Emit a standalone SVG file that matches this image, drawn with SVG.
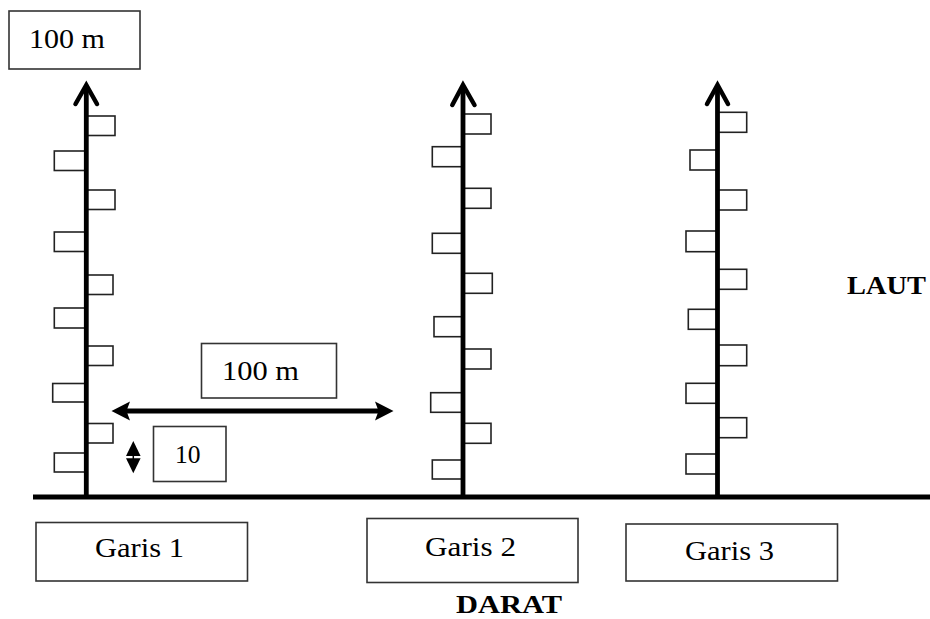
<svg xmlns="http://www.w3.org/2000/svg" width="930" height="619" viewBox="0 0 930 619">
<defs>
<style>
.bx{fill:#fff;stroke:#333;stroke-width:1.6}
.tk{fill:#fff;stroke:#222;stroke-width:1.6}
.ln{stroke:#000;stroke-width:4.8;fill:none}
.chev{stroke:#000;stroke-width:4.5;fill:none;stroke-linecap:round;stroke-linejoin:miter}
.t{font-family:"Liberation Serif","Times New Roman",serif;fill:#000}
.b{font-weight:bold}
</style>
</defs>
<rect width="930" height="619" fill="#fff"/>

<g id="label-top">
<rect class="bx" x="9" y="11" width="131" height="58"/>
<text class="t" x="29" y="48" font-size="27" textLength="76" lengthAdjust="spacingAndGlyphs">100 m</text>
</g>
<g id="label-mid">
<rect class="bx" x="201.5" y="343.5" width="135" height="54.5"/>
<text class="t" x="222" y="380" font-size="27" textLength="77" lengthAdjust="spacingAndGlyphs">100 m</text>
</g>
<g id="label-10">
<rect class="bx" x="153.5" y="426.5" width="72.5" height="55"/>
<text class="t" x="175" y="463" font-size="26" textLength="25.5" lengthAdjust="spacingAndGlyphs">10</text>
</g>
<g id="garis1">
<rect class="bx" x="36" y="522.5" width="211.5" height="58.5"/>
<text class="t" x="95" y="557" font-size="28" textLength="89" lengthAdjust="spacingAndGlyphs">Garis 1</text>
</g>
<g id="garis2">
<rect class="bx" x="367" y="518.5" width="211" height="64"/>
<text class="t" x="425" y="556" font-size="28" textLength="91" lengthAdjust="spacingAndGlyphs">Garis 2</text>
</g>
<g id="garis3">
<rect class="bx" x="626" y="524" width="211.5" height="57"/>
<text class="t" x="685" y="560" font-size="28" textLength="89" lengthAdjust="spacingAndGlyphs">Garis 3</text>
</g>
<g id="laut">
<text class="t b" x="847" y="294" font-size="25" textLength="79" lengthAdjust="spacingAndGlyphs">LAUT</text>
</g>
<g id="darat">
<text class="t b" x="456" y="613" font-size="26" textLength="106" lengthAdjust="spacingAndGlyphs">DARAT</text>
</g>

<g id="line1">
<rect class="tk" x="86" y="116" width="29" height="19.5"/>
<rect class="tk" x="86" y="190" width="29" height="19.5"/>
<rect class="tk" x="86" y="275" width="27" height="19.5"/>
<rect class="tk" x="86" y="346" width="27" height="19.5"/>
<rect class="tk" x="86" y="423.5" width="27" height="19.5"/>
<rect class="tk" x="54.3" y="151" width="32" height="19.5"/>
<rect class="tk" x="54.3" y="232" width="32" height="19.5"/>
<rect class="tk" x="54.3" y="308" width="32" height="20"/>
<rect class="tk" x="52.7" y="383.5" width="33" height="18.5"/>
<rect class="tk" x="54.3" y="453" width="32" height="19"/>
<line class="ln" x1="86.3" y1="86" x2="86.3" y2="497"/>
<polyline class="chev" points="75.5,104 86.3,85 97,104"/>
</g>

<g id="line2">
<rect class="tk" x="463" y="114" width="28" height="20"/>
<rect class="tk" x="463" y="188.3" width="28" height="20"/>
<rect class="tk" x="463" y="273.3" width="29.3" height="20"/>
<rect class="tk" x="463" y="349" width="28" height="20"/>
<rect class="tk" x="463" y="423.3" width="28" height="20"/>
<rect class="tk" x="432.3" y="146.7" width="30.7" height="20"/>
<rect class="tk" x="432.3" y="233.3" width="30.7" height="20"/>
<rect class="tk" x="434" y="316.7" width="29" height="20"/>
<rect class="tk" x="430.7" y="392.7" width="32.3" height="19.6"/>
<rect class="tk" x="432.3" y="460" width="30.7" height="19"/>
<line class="ln" x1="463" y1="86" x2="463" y2="497"/>
<polyline class="chev" points="452.3,105 463,85 474.5,105"/>
</g>

<g id="line3">
<rect class="tk" x="717.5" y="112.3" width="29.2" height="20"/>
<rect class="tk" x="717.5" y="190" width="29.2" height="20"/>
<rect class="tk" x="717.5" y="269.3" width="29.2" height="20"/>
<rect class="tk" x="717.5" y="345" width="29.2" height="20.7"/>
<rect class="tk" x="717.5" y="417.7" width="29.2" height="20"/>
<rect class="tk" x="690" y="150" width="27.5" height="20"/>
<rect class="tk" x="686" y="231" width="31.5" height="20.7"/>
<rect class="tk" x="688.3" y="309.3" width="29.2" height="20"/>
<rect class="tk" x="686" y="383.3" width="31.5" height="20"/>
<rect class="tk" x="686" y="454" width="31.5" height="20"/>
<line class="ln" x1="717.5" y1="86" x2="717.5" y2="497"/>
<polyline class="chev" points="707,104 717.5,85 728,104"/>
</g>

<g id="connectors">
<line class="ln" x1="33" y1="497" x2="930" y2="497"/>
<line class="ln" x1="124" y1="411" x2="381" y2="411"/>
<path d="M393.5,411 L375,401.5 L378.5,411 L375,420.5 Z" fill="#000"/>
<path d="M111.5,411 L130,401.5 L126.5,411 L130,420.5 Z" fill="#000"/>
<path d="M133.3,441 L126,456 L140.6,456 Z" fill="#000"/>
<path d="M133.3,473.3 L126,458.3 L140.6,458.3 Z" fill="#000"/>
<line x1="133.3" y1="445" x2="133.3" y2="470" stroke="#000" stroke-width="1.5"/>
</g>
</svg>
